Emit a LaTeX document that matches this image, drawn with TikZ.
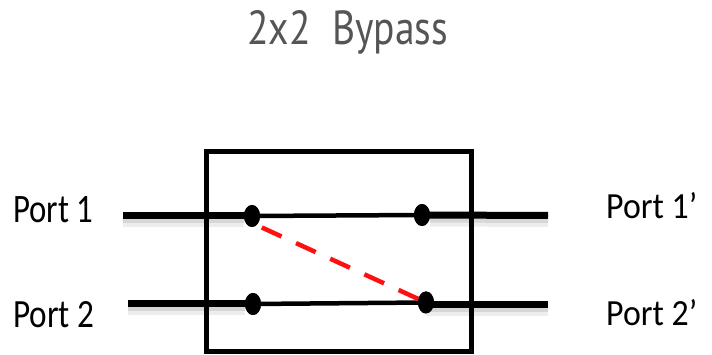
\documentclass[tikz,border=0pt]{standalone}
\usepackage{fontspec}
\setmainfont{Carlito}
\newfontfamily\titlefont{PT Sans}
\usetikzlibrary{shapes.geometric,calc}
\definecolor{titlegray}{HTML}{555555}
\definecolor{linkred}{HTML}{FF1010}
\begin{document}
\begin{tikzpicture}[x=1pt,y=1pt,
  dot/.style={ellipse,fill=black,draw=none,inner sep=0pt,minimum width=16pt,minimum height=22pt},
  thickline/.style={line width=7pt},
  thinline/.style={line width=4.5pt},
  shadowA/.style={line width=13pt,draw=black!7,transform canvas={yshift=-5pt}},
  shadowB/.style={line width=8pt,draw=black!16,transform canvas={yshift=-3.5pt}},
  frame/.style={line width=5pt,draw=black},
  crossline/.style={line width=4.5pt,draw=linkred,dash pattern=on 21.6pt off 16pt,dash phase=26.8pt},
  portlabel/.style={anchor=base west,inner sep=0pt,text=black}]
\useasboundingbox (0,0) rectangle (712,355);
% title
\node[anchor=base west,inner sep=0pt,text=titlegray] (title) at (247,310)
  {\resizebox{201pt}{34pt}{\titlefont 2x2\hspace{0.55em}Bypass}};
% port ends
\coordinate (a1) at (123,139);
\coordinate (b1) at (548,139.5);
\coordinate (a2) at (128,51);
\coordinate (b2) at (548,50.5);
% switch points
\node[dot] (p1in) at (252,139) {};
\node[dot] (p1out) at (422,140) {};
\node[dot] (p2in) at (253,51) {};
\node[dot] (p2out) at (426,52.5) {};
% shadows
\foreach \s/\e in {a1/p1in,p1out/b1,a2/p2in}{
  \draw[shadowA] (\s) -- (\e);
  \draw[shadowB] (\s) -- (\e);
}
\draw[shadowA] (p2out.center |- b2) -- (b2);
\draw[shadowB] (p2out.center |- b2) -- (b2);
% box
\draw[frame] (206,203) rectangle (471,3);
% lines
\draw[thickline] (a1) -- (p1in.center);
\draw[thickline] (p1out.center) -- (b1);
\draw[thickline] (a2) -- (p2in.center);
\draw[thickline] (p2out.center |- b2) -- (b2);
\draw[thinline] (p1in.center) -- (p1out.center);
\draw[thinline] (p2in.center) -- (p2out.center);
% bypass
\draw[crossline] ($(p1in.center)+(0,-7pt)$) -- (p2out.center);
% redraw dots on top
\node[dot] at (p1in) {};
\node[dot] at (p1out) {};
\node[dot] at (p2in) {};
\node[dot] at (p2out) {};
% labels
\node[portlabel] (l1) at (13,132) {\resizebox{80pt}{26pt}{Port 1}};
\node[portlabel] (l2) at (13,27) {\resizebox{81pt}{26pt}{Port 2}};
\node[portlabel] (r1) at (606,136) {\resizebox{91pt}{26pt}{Port 1’}};
\node[portlabel] (r2) at (606,29) {\resizebox{91pt}{26pt}{Port 2’}};
\end{tikzpicture}
\end{document}
